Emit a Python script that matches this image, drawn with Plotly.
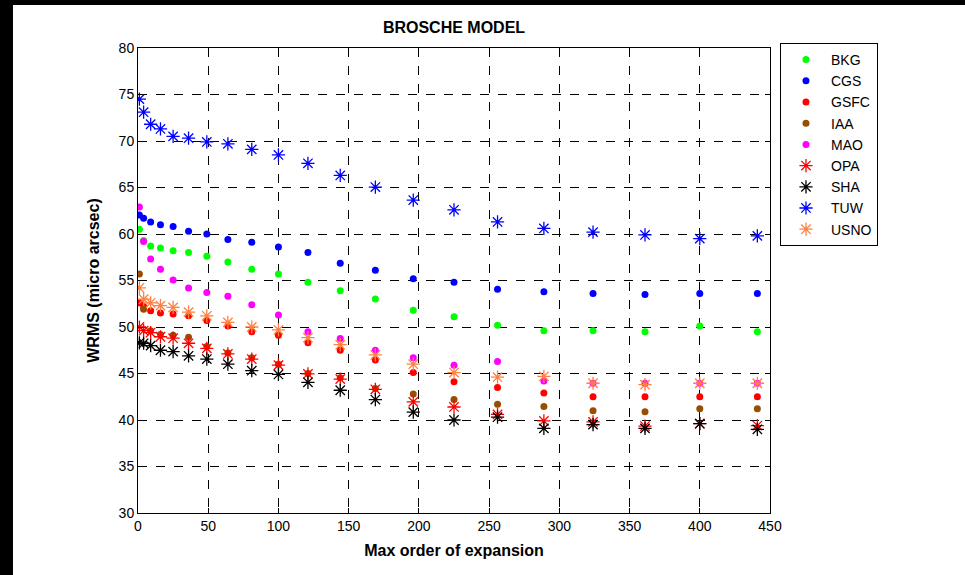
import plotly.graph_objects as go

# Maximum order of expansion (n^2 for n = 1..21)
orders = [1, 4, 9, 16, 25, 36, 49, 64, 81, 100, 121, 144, 169, 196, 225,
          256, 289, 324, 361, 400, 441]

# WRMS per analysis centre (micro arcsec)
bkg = [60.5, 59.3, 58.7, 58.5, 58.2, 58.0, 57.6, 57.0, 56.2, 55.7, 54.8,
       53.9, 53.0, 51.8, 51.1, 50.2, 49.6, 49.6, 49.5, 50.1, 49.5]
cgs = [62.05, 61.7, 61.3, 61.0, 60.8, 60.3, 60.0, 59.4, 59.1, 58.6, 58.0,
       56.85, 56.1, 55.2, 54.8, 54.05, 53.8, 53.6, 53.5, 53.6, 53.6]
gsfc = [52.6, 52.2, 51.75, 51.5, 51.4, 51.2, 50.7, 50.1, 49.5, 49.1, 48.3,
        47.5, 46.45, 45.1, 44.1, 43.5, 42.9, 42.5, 42.5, 42.5, 42.5]
iaa = [55.7, 51.9, 49.6, 49.2, 49.1, 48.9, 47.9, 47.2, 46.7, 46.0, 45.0,
       44.55, 43.4, 42.8, 42.2, 41.7, 41.45, 41.0, 40.9, 41.2, 41.2]
mao = [62.9, 59.2, 57.3, 56.2, 55.05, 54.2, 53.7, 53.3, 52.4, 51.3, 49.5,
       48.75, 47.5, 46.7, 45.9, 46.3, 44.2, 43.95, 43.95, 43.95, 43.95]
opa = [50.0, 49.6, 49.4, 48.95, 48.8, 48.25, 47.7, 47.1, 46.55, 45.9, 44.95,
       44.4, 43.3, 41.95, 41.4, 40.6, 39.9, 39.8, 39.35, 39.6, 39.4]
sha = [48.3, 48.25, 48.0, 47.5, 47.35, 46.9, 46.55, 46.0, 45.3, 44.9, 44.05,
       43.2, 42.2, 40.85, 40.0, 40.3, 39.1, 39.5, 39.1, 39.6, 39.0]
tuw = [74.5, 73.1, 71.8, 71.3, 70.5, 70.3, 69.9, 69.7, 69.1, 68.5, 67.6,
       66.3, 65.05, 63.65, 62.6, 61.3, 60.6, 60.2, 59.9, 59.5, 59.8]
usno = [54.2, 53.0, 52.6, 52.3, 52.1, 51.6, 51.2, 50.5, 50.0, 49.7, 48.85,
        48.1, 47.0, 46.0, 45.1, 44.6, 44.7, 43.95, 43.8, 43.95, 43.95]

series = [
    ("BKG", bkg, "#00ff00", "dot"),
    ("CGS", cgs, "#0000ff", "dot"),
    ("GSFC", gsfc, "#ff0000", "dot"),
    ("IAA", iaa, "#994d00", "dot"),
    ("MAO", mao, "#ff00ff", "dot"),
    ("OPA", opa, "#ff0000", "star"),
    ("SHA", sha, "#000000", "star"),
    ("TUW", tuw, "#0000ff", "star"),
    ("USNO", usno, "#ff8040", "star"),
]

FONT = "Liberation Sans, Arial, sans-serif"

fig = go.Figure()
for name, vals, color, kind in series:
    if kind == "dot":
        marker = dict(symbol="circle", size=7, color=color, line=dict(width=0))
    else:
        marker = dict(symbol="asterisk-open", size=11, color=color,
                      line=dict(width=1.3, color=color))
    fig.add_trace(go.Scatter(x=orders, y=vals, mode="markers", name=name,
                             marker=marker))

axis_common = dict(
    showline=True, linecolor="black", linewidth=1, mirror="ticks",
    ticks="inside", ticklen=5, tickcolor="black",
    showgrid=True, gridcolor="black", gridwidth=1, griddash="dash",
    zeroline=False, tickfont=dict(family=FONT, size=14, color="black"),
)

fig.update_xaxes(range=[0, 450], dtick=50, tick0=0,
                 title=dict(text="<b>Max order of expansion</b>",
                            font=dict(family=FONT, size=16, color="black"),
                            standoff=12),
                 **axis_common)
fig.update_yaxes(range=[30, 80], dtick=5, tick0=30,
                 title=dict(text="<b>WRMS (micro arcsec)</b>",
                            font=dict(family=FONT, size=16, color="black"),
                            standoff=15),
                 **axis_common)

# Black frame strips along the top and left edges of the window
fig.add_shape(type="rect", xref="paper", yref="paper", x0=-0.3, x1=-0.1978,
              y0=-0.3, y1=1.3, fillcolor="black", line=dict(width=0), layer="above")
fig.add_shape(type="rect", xref="paper", yref="paper", x0=-0.3, x1=1.6,
              y0=1.0925, y1=1.3, fillcolor="black", line=dict(width=0), layer="above")

fig.update_layout(
    width=965, height=575,
    margin=dict(l=138, r=195, t=48, b=62),
    paper_bgcolor="white", plot_bgcolor="white",
    title=dict(text="<b>BROSCHE MODEL</b>", x=0.5, xref="paper",
               xanchor="center", y=1 - 27 / 575, yanchor="middle",
               font=dict(family=FONT, size=16, color="black")),
    legend=dict(x=1.0158, y=1.0108, xanchor="left", yanchor="top",
                bordercolor="black", borderwidth=1, bgcolor="white",
                font=dict(family=FONT, size=14, color="black"),
                itemwidth=40, itemsizing="trace"),
    showlegend=True,
)

fig.write_html("out.html")
